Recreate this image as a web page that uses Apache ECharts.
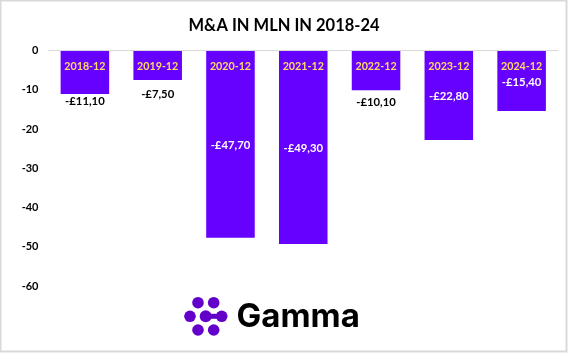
<!DOCTYPE html>
<html>
<head>
<meta charset="utf-8">
<style>
html,body{margin:0;padding:0;background:#fff;}
#chart{width:568px;height:353px;}
</style>
<script src="https://cdn.jsdelivr.net/npm/echarts@6/dist/echarts.min.js"></script>
</head>
<body>
<div id="chart"></div>
<script>
const categories = ['2018-12','2019-12','2020-12','2021-12','2022-12','2023-12','2024-12'];
const values = [-11.1,-7.5,-47.7,-49.3,-10.1,-22.8,-15.4];
const titleText = 'M&A IN MLN IN 2018-24';
const logoText = 'Gamma';

const font = 'Lato, "Open Sans", sans-serif';
const purple = '#6600FF';
const logoPurple = '#6300C9';
const outsideGap = {0: 0, 1: 7, 4: 5};

const fmt = v => '-£' + Math.abs(v).toFixed(2).replace('.', ',');

const chart = echarts.init(document.getElementById('chart'), null, {renderer:'canvas'});
const dot = (x,y,r=5.8) => ({type:'circle',shape:{cx:x,cy:y,r},style:{fill:logoPurple},silent:true});
chart.setOption({
  animation:false,
  backgroundColor:'#fff',
  title:{
    text:titleText,left:'center',top:12,
    textStyle:{fontFamily:font,fontSize:16.5,fontWeight:'bold',color:'#000'}
  },
  grid:{left:48.5,right:10,top:50.5,bottom:67},
  xAxis:{
    type:'category',data:categories,position:'top',
    axisLine:{show:true,onZero:true,lineStyle:{color:'#d9d9d9',width:1}},
    axisTick:{show:false},
    axisLabel:{
      inside:true,margin:10.5,interval:0,
      fontFamily:font,fontSize:10.7,fontWeight:'bold',color:'#FFD966',
      verticalAlign:'top'
    },
    z:5
  },
  yAxis:{
    type:'value',min:-60,max:0,interval:10,
    axisLine:{show:false},axisTick:{show:false},splitLine:{show:false},
    axisLabel:{margin:10,fontFamily:font,fontSize:11,fontWeight:'bold',color:'#000'}
  },
  series:[{
    type:'bar',barWidth:'66.7%',
    itemStyle:{color:purple},
    data:values.map((v,i)=>{
      const outside = Math.abs(v) < 12;
      return {
        value:v,
        label:{
          show:true,
          position:outside?'bottom':'inside',
          distance:outside?outsideGap[i]:0,
          offset:[0,1.5],
          formatter:()=>fmt(v),
          fontFamily:font,fontSize:11.3,fontWeight:'bold',
          color:outside?'#000':'#fff'
        }
      };
    })
  }],
  graphic:[
    {type:'rect',shape:{x:0.5,y:0.5,width:566,height:351},style:{fill:'none',stroke:'#d9d9d9',lineWidth:2},silent:true,z:10},
    dot(198,302.7),dot(213.7,302.7),dot(190,316.3),dot(221.7,316.3),dot(198,330),dot(213.7,330),dot(205.7,316.3,6),
    {type:'line',shape:{x1:205.7,y1:316.3,x2:221.7,y2:316.3},style:{stroke:logoPurple,lineWidth:5},silent:true},
    {type:'text',style:{text:logoText,x:236.5,y:317,verticalAlign:'middle',font:'bold 33px Inter, '+font,fill:'#000'},silent:true}
  ]
});
</script>
</body>
</html>
